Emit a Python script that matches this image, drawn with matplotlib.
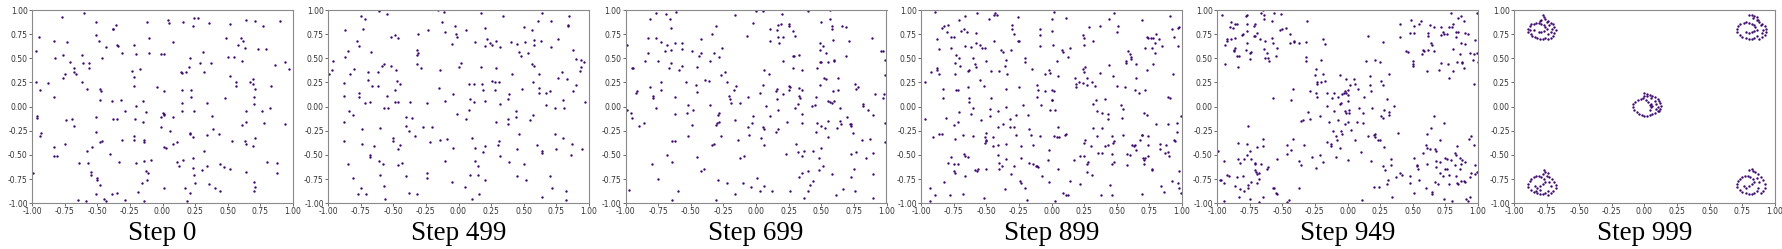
import matplotlib
matplotlib.use("Agg")
import matplotlib.pyplot as plt
import numpy as np

titles = ["Step 0", "Step 499", "Step 699", "Step 899", "Step 949", "Step 999"]
ticks = [-1.00, -0.75, -0.50, -0.25, 0.00, 0.25, 0.50, 0.75, 1.00]

step0 = [(-0.77,0.93),(-0.60,0.97),(-0.51,0.88),(-0.95,0.72),(-0.97,0.58),(-0.83,0.68),(-0.73,0.67),(-0.82,0.50),(-0.76,0.53),(-0.62,0.53),(-0.71,0.46),(-0.68,0.40),(-0.68,0.36),(-0.76,0.30),(-0.75,0.34),(-0.66,0.34),(-0.61,0.45),(-0.56,0.45),(-0.56,0.40),(-0.62,0.26),(-0.58,0.18),(-0.97,0.26),(-0.94,0.17),(-0.88,0.24),(-0.83,0.10),(-0.51,0.74),(-0.49,0.68),(-0.43,0.62),(-0.46,0.50),(-0.48,0.07),(-0.48,0.18),(-0.47,0.16),(-0.38,0.80),(-0.36,0.84),(-0.38,0.80),(-0.35,0.64),(-0.34,0.63),(-0.31,0.56),(-0.12,0.88),(-0.10,0.71),(-0.10,0.55),(-0.20,0.54),(-0.17,0.39),(-0.23,0.37),(-0.22,0.31),(-0.22,0.21),(-0.22,0.64),(-0.04,0.20),(-0.01,0.54),(0.01,0.54),(0.01,0.16),(-0.39,0.06),(-0.32,0.07),(-0.20,0.01),(-0.15,0.06),(-0.29,-0.04),(-0.38,-0.13),(-0.35,-0.13),(-0.21,-0.13),(-0.13,-0.06),(-0.15,-0.16),(0.00,-0.07),(0.01,-0.09),(-0.01,-0.11),(0.01,-0.08),(0.08,-0.11),(-0.01,-0.21),(0.06,-0.25),(-0.96,-0.10),(-0.96,-0.12),(-0.94,-0.30),(-0.93,-0.27),(-0.74,-0.14),(-0.69,-0.13),(-0.68,-0.20),(-0.75,-0.39),(-0.83,-0.42),(-0.83,-0.51),(-0.81,-0.51),(-0.51,-0.11),(-0.51,-0.26),(-0.48,-0.37),(-0.46,-0.36),(-0.54,-0.42),(-0.58,-0.46),(-0.57,-0.58),(-0.64,-0.58),(-0.55,-0.68),(-0.55,-0.71),(-0.50,-0.74),(-0.50,-0.76),(-0.48,-0.81),(-0.51,-0.90),(-0.45,-0.96),(-0.43,-0.98),(-0.39,-0.90),(-0.35,-0.89),(-0.65,-0.97),(-0.59,-0.98),(-0.99,-0.69),(-0.40,-0.49),(-0.33,-0.57),(-0.31,-0.34),(-0.22,-0.30),(-0.22,-0.35),(-0.14,-0.37),(-0.14,-0.34),(-0.20,-0.58),(-0.14,-0.56),(-0.09,-0.55),(-0.13,-0.67),(-0.11,-0.69),(-0.12,-0.76),(-0.16,-0.79),(-0.19,-0.88),(-0.29,-0.97),(-0.14,-0.98),(0.01,-0.42),(0.03,-0.43),(0.01,-0.84),(0.04,0.90),(0.05,0.87),(0.08,0.67),(0.16,0.88),(0.24,0.92),(0.27,0.92),(0.23,0.83),(0.36,0.87),(0.14,0.36),(0.15,0.35),(0.18,0.36),(0.20,0.41),(0.21,0.50),(0.31,0.57),(0.29,0.45),(0.37,0.45),(0.32,0.36),(0.15,0.17),(0.22,0.17),(0.22,0.10),(0.15,0.04),(0.34,0.04),(0.15,-0.04),(0.24,-0.04),(0.38,-0.10),(0.39,-0.23),(0.43,-0.28),(0.34,-0.29),(0.21,-0.27),(0.21,-0.28),(0.23,-0.31),(0.11,-0.37),(0.08,-0.39),(0.32,-0.46),(0.23,-0.53),(0.11,-0.57),(0.13,-0.61),(0.16,-0.55),(0.23,-0.63),(0.24,-0.71),(0.34,-0.61),(0.30,-0.66),(0.25,-0.79),(0.36,-0.80),(0.17,-0.84),(0.21,-0.89),(0.19,-0.98),(0.40,-0.84),(0.44,-0.87),(0.44,-0.59),(0.47,-0.62),(0.52,-0.65),(0.53,-0.36),(0.49,0.71),(0.52,0.86),(0.64,0.90),(0.71,0.89),(0.77,0.83),(0.90,0.89),(0.60,0.71),(0.62,0.68),(0.58,0.64),(0.63,0.61),(0.73,0.60),(0.79,0.60),(0.50,0.51),(0.55,0.51),(0.61,0.47),(0.52,0.32),(0.56,0.25),(0.56,0.21),(0.67,0.25),(0.69,0.23),(0.69,0.29),(0.71,0.18),(0.86,0.43),(0.94,0.46),(0.97,0.39),(0.83,0.21),(0.70,0.10),(0.70,0.03),(0.64,-0.05),(0.76,-0.05),(0.82,-0.01),(0.61,-0.19),(0.64,-0.16),(0.78,-0.17),(0.94,-0.18),(0.48,0.09),(0.63,-0.36),(0.64,-0.39),(0.69,-0.41),(0.71,-0.32),(0.64,-0.68),(0.70,-0.78),(0.71,-0.83),(0.70,-0.87),(0.80,-0.57),(0.88,-0.58),(0.88,-0.69)]

step499 = [(-0.99,0.34),(-0.97,0.38),(-0.96,0.47),(-0.87,0.79),(-0.85,0.58),(-0.87,0.51),(-0.83,0.34),(-0.80,0.39),(-0.78,0.68),(-0.76,0.63),(-0.75,0.94),(-0.72,0.91),(-0.73,0.80),(-0.67,0.57),(-0.69,0.36),(-0.69,0.28),(-0.66,0.21),(-0.62,0.21),(-0.62,0.36),(-0.61,0.99),(-0.55,0.96),(-0.59,0.42),(-0.57,0.44),(-0.52,0.42),(-0.52,0.72),(-0.49,0.74),(-0.46,0.71),(-0.48,0.38),(-0.47,0.27),(-0.45,0.23),(-0.49,0.17),(-0.55,0.11),(-0.49,0.05),(-0.46,0.05),(-0.57,-0.01),(-0.54,-0.01),(-0.88,0.24),(-0.88,0.11),(-0.84,-0.04),(-0.81,-0.09),(-0.88,-0.16),(-0.88,-0.36),(-0.76,0.14),(-0.76,0.10),(-0.72,0.04),(-0.68,0.05),(-0.74,-0.23),(-0.74,-0.39),(-0.65,-0.41),(-0.68,-0.50),(-0.68,-0.52),(-0.85,-0.59),(-0.81,-0.74),(-0.77,-0.90),(-0.75,-0.84),(-0.71,-0.90),(-0.60,-0.22),(-0.61,-0.56),(-0.58,-0.59),(-0.60,-0.71),(-0.57,-0.82),(-0.56,-0.96),(-0.50,-0.32),(-0.50,-0.36),(-0.45,-0.40),(-0.46,-0.44),(-0.46,-0.60),(-0.43,-0.58),(-0.40,-0.72),(-0.38,-0.89),(-0.32,-0.90),(-0.37,0.05),(-0.40,-0.11),(-0.36,-0.12),(-0.40,-0.20),(-0.38,-0.25),(-0.33,-0.30),(-0.27,-0.21),(-0.20,-0.21),(-0.32,0.59),(-0.31,0.56),(-0.32,0.53),(-0.31,0.75),(-0.32,0.44),(-0.29,0.40),(-0.23,0.79),(-0.24,0.04),(-0.22,-0.37),(-0.24,-0.69),(-0.24,-0.74),(-0.16,1.00),(-0.11,0.98),(-0.13,0.88),(-0.10,0.77),(-0.15,0.19),(-0.14,0.38),(-0.10,0.06),(-0.14,-0.35),(-0.09,-0.33),(-0.10,-0.56),(-0.05,0.65),(-0.03,0.83),(-0.02,0.75),(-0.01,0.72),(-0.04,0.13),(-0.01,-0.08),(-0.04,-0.43),(-0.05,-0.78),(0.00,0.41),(0.02,0.45),(0.06,0.79),(0.08,0.23),(0.09,0.08),(0.08,-0.03),(0.06,-0.13),(0.05,-0.83),(0.10,-0.32),(0.09,-0.71),(0.10,-0.96),(0.13,0.67),(0.12,0.23),(0.12,0.05),(0.13,-0.43),(0.13,-0.56),(0.15,-0.61),(0.15,-0.71),(0.16,-0.90),(0.17,0.97),(0.17,0.41),(0.18,0.23),(0.19,0.17),(0.20,0.06),(0.20,0.81),(0.20,0.63),(0.22,0.70),(0.20,-0.41),(0.19,-0.47),(0.20,-0.76),(0.24,0.66),(0.26,0.64),(0.26,0.27),(0.28,0.25),(0.28,0.17),(0.29,0.40),(0.29,0.68),(0.31,0.25),(0.32,0.62),(0.34,0.94),(0.32,0.03),(0.29,-0.16),(0.31,-0.36),(0.30,-0.40),(0.32,-0.51),(0.38,0.08),(0.39,0.13),(0.38,-0.13),(0.38,-0.18),(0.39,-0.57),(0.40,0.67),(0.41,0.34),(0.45,0.65),(0.46,0.57),(0.48,0.52),(0.49,0.18),(0.44,-0.04),(0.44,-0.11),(0.46,-0.28),(0.45,-0.44),(0.45,-0.72),(0.50,-0.59),(0.50,0.82),(0.51,0.67),(0.52,-0.76),(0.53,0.55),(0.55,-0.14),(0.56,0.79),(0.56,0.44),(0.57,0.26),(0.58,0.64),(0.58,0.42),(0.58,0.69),(0.57,-0.09),(0.60,-0.40),(0.61,0.89),(0.62,0.34),(0.62,0.19),(0.62,0.14),(0.63,0.68),(0.64,0.97),(0.64,-0.46),(0.64,-0.48),(0.64,-0.93),(0.67,0.14),(0.67,0.02),(0.70,0.16),(0.70,-0.72),(0.71,0.62),(0.71,0.89),(0.72,-0.84),(0.74,-0.01),(0.74,-0.28),(0.75,-0.44),(0.76,0.70),(0.76,0.30),(0.79,0.36),(0.80,0.07),(0.81,-0.01),(0.80,-0.32),(0.82,-0.87),(0.82,-0.97),(0.83,0.29),(0.84,0.84),(0.84,0.83),(0.85,0.94),(0.88,0.59),(0.88,0.16),(0.87,-0.39),(0.86,-0.50),(0.90,0.49),(0.90,0.22),(0.93,0.37),(0.94,0.48),(0.94,0.41),(0.96,0.46),(0.97,0.05),(0.95,-0.44)]

step699 = [(-0.99,0.64),(-0.99,-0.03),(-0.96,-0.07),(-0.95,-0.12),(-0.95,0.40),(-0.94,0.40),(-0.97,-0.86),(-0.92,0.14),(-0.91,0.16),(-0.90,-0.20),(-0.86,-0.17),(-0.85,0.47),(-0.83,0.56),(-0.83,0.71),(-0.81,0.91),(-0.77,0.97),(-0.81,0.20),(-0.79,0.09),(-0.79,0.11),(-0.77,-0.01),(-0.80,-0.59),(-0.77,0.71),(-0.75,0.47),(-0.75,-0.75),(-0.73,0.67),(-0.73,0.26),(-0.73,0.17),(-0.70,0.58),(-0.69,0.96),(-0.68,-0.50),(-0.68,0.64),(-0.66,0.91),(-0.67,0.40),(-0.65,0.59),(-0.65,0.81),(-0.65,0.45),(-0.64,-0.36),(-0.64,-0.57),(-0.64,-0.97),(-0.62,-0.36),(-0.62,-0.08),(-0.62,0.66),(-0.61,0.98),(-0.62,0.10),(-0.60,-0.87),(-0.59,0.38),(-0.57,0.66),(-0.57,0.60),(-0.57,0.42),(-0.54,0.25),(-0.53,-0.07),(-0.52,0.02),(-0.52,-0.30),(-0.49,0.58),(-0.49,-0.19),(-0.48,-0.03),(-0.46,0.22),(-0.45,0.41),(-0.45,0.15),(-0.45,-0.52),(-0.44,0.52),(-0.42,0.70),(-0.42,0.55),(-0.42,-0.67),(-0.40,-0.65),(-0.39,0.28),(-0.36,0.27),(-0.35,0.47),(-0.35,0.02),(-0.34,0.75),(-0.34,-0.40),(-0.32,0.56),(-0.32,-0.39),(-0.31,-0.97),(-0.31,0.83),(-0.30,-0.17),(-0.29,-0.09),(-0.28,-0.07),(-0.28,-0.16),(-0.28,0.51),(-0.31,-0.19),(-0.27,-0.30),(-0.29,-0.76),(-0.27,0.33),(-0.26,0.61),(-0.24,0.36),(-0.22,-0.79),(-0.22,0.26),(-0.21,0.11),(-0.20,0.08),(-0.19,0.04),(-0.17,0.17),(-0.16,-0.90),(-0.16,-0.14),(-0.16,0.95),(-0.15,0.21),(-0.14,-0.34),(-0.12,0.04),(-0.12,-0.53),(-0.10,-0.79),(-0.09,-0.51),(-0.07,0.73),(-0.06,0.10),(-0.06,-0.21),(-0.05,-0.29),(-0.04,-0.83),(-0.03,-0.17),(-0.02,-0.10),(-0.02,0.87),(0.00,0.99),(0.01,-0.74),(0.03,0.14),(0.03,-0.87),(0.04,-0.32),(0.05,0.99),(0.05,0.22),(0.05,-0.21),(0.06,-0.23),(0.06,0.38),(0.06,-0.40),(0.06,-0.82),(0.08,0.01),(0.10,0.34),(0.11,-0.10),(0.11,0.80),(0.11,0.68),(0.12,-0.87),(0.15,-0.26),(0.15,0.16),(0.16,0.08),(0.16,0.18),(0.16,0.79),(0.17,0.84),(0.17,-0.03),(0.17,0.72),(0.17,-0.23),(0.18,0.66),(0.19,0.85),(0.20,0.96),(0.21,0.47),(0.21,0.72),(0.21,0.13),(0.23,-0.49),(0.24,-0.16),(0.25,0.85),(0.25,0.83),(0.25,0.21),(0.26,0.20),(0.25,0.17),(0.26,-0.87),(0.28,0.78),(0.28,0.52),(0.28,0.40),(0.29,0.52),(0.30,-0.01),(0.30,0.73),(0.31,-0.39),(0.32,0.03),(0.32,-0.47),(0.33,0.19),(0.33,0.11),(0.33,0.53),(0.33,-0.73),(0.34,0.09),(0.35,0.17),(0.35,-0.08),(0.35,-0.17),(0.35,-0.51),(0.35,-0.69),(0.35,0.38),(0.37,-0.95),(0.37,-0.46),(0.40,0.99),(0.40,-0.67),(0.40,-0.87),(0.41,-0.81),(0.43,0.01),(0.44,-0.46),(0.44,-0.77),(0.45,0.02),(0.46,0.10),(0.46,-0.26),(0.47,0.40),(0.47,-0.17),(0.48,-0.66),(0.49,0.46),(0.48,-0.53),(0.49,0.59),(0.49,0.66),(0.50,0.46),(0.49,0.22),(0.50,-0.43),(0.50,-0.20),(0.50,0.88),(0.51,0.63),(0.51,-0.61),(0.52,0.30),(0.53,-0.22),(0.54,0.29),(0.54,0.56),(0.55,-0.31),(0.55,-0.15),(0.55,0.06),(0.55,0.46),(0.57,0.91),(0.57,1.00),(0.57,0.05),(0.58,0.04),(0.58,-0.70),(0.58,0.83),(0.58,0.80),(0.59,0.16),(0.59,0.69),(0.60,0.48),(0.60,0.47),(0.60,0.06),(0.61,-0.91),(0.62,-0.22),(0.63,0.17),(0.63,0.30),(0.64,-0.01),(0.64,-0.15),(0.65,-0.18),(0.66,0.83),(0.67,-0.85),(0.69,0.52),(0.69,0.82),(0.70,-0.11),(0.71,0.68),(0.72,-0.18),(0.73,-0.20),(0.73,-0.18),(0.73,-0.49),(0.73,-0.73),(0.74,-0.27),(0.75,-0.64),(0.76,-0.87),(0.76,0.23),(0.77,0.18),(0.78,0.20),(0.77,-0.47),(0.81,-0.35),(0.82,0.03),(0.82,0.01),(0.84,-0.53),(0.86,-0.03),(0.87,-0.33),(0.89,0.71),(0.90,-0.70),(0.90,-0.09),(0.90,-0.48),(0.90,-0.95),(0.91,0.13),(0.96,0.58),(0.97,0.58),(0.97,0.09),(0.98,0.13),(0.99,0.48),(0.99,0.33),(0.99,-0.17),(0.99,-0.37)]

step899 = [(-0.97,0.25),(-0.97,-0.13),(-0.93,-0.84),(-0.93,-0.98),(-0.92,0.36),(-0.91,-0.31),(-0.89,-0.91),(-0.89,0.98),(-0.88,0.40),(-0.88,0.70),(-0.88,0.38),(-0.86,-0.28),(-0.86,0.34),(-0.86,0.60),(-0.84,-0.28),(-0.84,0.81),(-0.83,0.18),(-0.83,0.09),(-0.82,0.83),(-0.82,-0.78),(-0.81,-0.12),(-0.80,0.77),(-0.79,0.84),(-0.79,-0.58),(-0.78,-0.91),(-0.77,0.61),(-0.77,0.72),(-0.77,-0.52),(-0.75,0.72),(-0.75,-0.19),(-0.75,-0.67),(-0.75,-0.59),(-0.74,-0.69),(-0.74,0.45),(-0.74,0.34),(-0.74,-0.33),(-0.73,0.53),(-0.73,0.17),(-0.72,-0.59),(-0.72,0.17),(-0.72,-0.16),(-0.71,0.90),(-0.71,-0.06),(-0.71,0.50),(-0.70,0.42),(-0.69,0.78),(-0.68,-0.29),(-0.68,-0.90),(-0.67,-0.49),(-0.67,0.80),(-0.66,0.94),(-0.66,-0.51),(-0.66,-0.72),(-0.66,0.63),(-0.65,0.77),(-0.64,0.37),(-0.64,0.20),(-0.64,-0.52),(-0.63,0.09),(-0.63,0.38),(-0.63,0.05),(-0.62,-0.08),(-0.62,0.62),(-0.60,-0.01),(-0.60,0.50),(-0.60,-0.30),(-0.59,0.44),(-0.59,-0.66),(-0.58,0.76),(-0.58,0.66),(-0.58,0.41),(-0.57,0.97),(-0.57,-0.67),(-0.56,-0.64),(-0.55,0.64),(-0.55,0.28),(-0.54,-0.14),(-0.53,0.61),(-0.52,0.21),(-0.52,-0.95),(-0.51,0.61),(-0.51,-0.31),(-0.51,-0.38),(-0.50,-0.27),(-0.50,-0.64),(-0.50,0.47),(-0.50,-0.35),(-0.50,-0.36),(-0.48,0.91),(-0.47,-0.02),(-0.47,-0.10),(-0.46,0.09),(-0.46,0.37),(-0.45,-0.31),(-0.45,-0.41),(-0.44,0.68),(-0.44,0.95),(-0.43,0.97),(-0.42,0.95),(-0.41,-0.05),(-0.41,-0.21),(-0.41,-0.50),(-0.41,-0.40),(-0.40,-0.58),(-0.40,0.37),(-0.40,-0.64),(-0.39,0.59),(-0.38,-0.61),(-0.37,-0.18),(-0.37,0.57),(-0.36,0.42),(-0.36,-0.85),(-0.35,-0.39),(-0.35,-0.54),(-0.35,0.48),(-0.35,0.18),(-0.35,0.00),(-0.34,0.34),(-0.32,-0.13),(-0.32,-0.21),(-0.31,-0.70),(-0.31,0.59),(-0.30,0.84),(-0.30,0.80),(-0.29,0.75),(-0.29,-0.21),(-0.29,-0.61),(-0.27,-0.29),(-0.27,-0.09),(-0.26,0.68),(-0.26,0.93),(-0.25,0.68),(-0.25,0.20),(-0.24,-0.77),(-0.23,-0.41),(-0.23,-0.79),(-0.23,-0.53),(-0.22,0.02),(-0.20,0.50),(-0.20,0.46),(-0.20,-0.84),(-0.19,-0.97),(-0.18,-0.09),(-0.17,-0.23),(-0.17,-0.58),(-0.16,-0.29),(-0.15,0.39),(-0.14,-0.40),(-0.14,-0.59),(-0.12,-0.61),(-0.11,0.10),(-0.11,0.22),(-0.11,-0.61),(-0.10,0.17),(-0.10,-0.62),(-0.09,0.80),(-0.09,0.74),(-0.09,0.63),(-0.09,-0.30),(-0.08,0.02),(-0.07,-0.72),(-0.05,0.34),(-0.05,0.16),(-0.03,-0.55),(-0.02,-0.45),(-0.02,-0.78),(-0.02,0.38),(-0.01,-0.03),(-0.01,0.35),(0.00,0.17),(0.00,0.07),(0.00,0.91),(0.00,0.78),(0.005,0.07),(0.01,0.64),(0.02,0.98),(0.02,0.16),(0.02,-0.30),(0.03,-0.03),(0.03,-0.98),(0.04,-0.31),(0.04,0.47),(0.05,-0.21),(0.05,-0.64),(0.05,0.32),(0.055,-0.31),(0.08,0.59),(0.09,-0.89),(0.09,0.57),(0.10,-0.29),(0.11,0.92),(0.11,-0.91),(0.11,-0.28),(0.13,0.51),(0.13,-0.91),(0.14,0.61),(0.14,-0.77),(0.17,-0.55),(0.18,0.30),(0.19,0.20),(0.19,0.23),(0.21,0.26),(0.22,-0.51),(0.22,-0.80),(0.24,0.39),(0.24,0.24),(0.24,0.74),(0.25,0.71),(0.25,0.64),(0.25,-0.51),(0.25,0.36),(0.255,0.41),(0.25,-0.38),(0.26,-0.34),(0.27,0.30),(0.27,0.22),(0.27,-0.59),(0.27,-0.68),(0.28,-0.57),(0.29,0.82),(0.30,-0.41),(0.31,0.25),(0.31,-0.71),(0.32,-0.22),(0.32,0.03),(0.32,0.68),(0.33,0.21),(0.34,0.07),(0.35,-0.05),(0.35,-0.30),(0.37,0.83),(0.36,-0.48),(0.37,0.35),(0.38,-0.91),(0.39,-0.22),(0.39,-0.48),(0.39,-0.07),(0.41,0.08),(0.41,-0.41),(0.43,-0.08),(0.43,-0.13),(0.43,-0.40),(0.44,0.91),(0.44,0.43),(0.45,-0.81),(0.46,-0.49),(0.46,-0.59),(0.46,-0.30),(0.46,-0.91),(0.47,0.32),(0.47,-0.38),(0.48,-0.36),(0.48,-0.57),(0.48,0.97),(0.50,0.21),(0.50,0.77),(0.51,0.83),(0.53,0.02),(0.54,-0.12),(0.55,-0.29),(0.55,-0.02),(0.56,0.20),(0.57,0.47),(0.57,0.45),(0.58,-0.49),(0.58,-0.60),(0.59,0.58),(0.60,0.54),(0.60,-0.50),(0.61,0.51),(0.61,0.49),(0.62,-0.40),(0.63,-0.41),(0.64,-0.40),(0.64,0.17),(0.65,0.44),(0.65,0.30),(0.65,-0.45),(0.67,0.14),(0.68,-0.34),(0.69,-0.29),(0.69,-0.90),(0.69,0.90),(0.695,-0.29),(0.70,-0.53),(0.71,-0.07),(0.71,-0.55),(0.71,-0.59),(0.72,-0.53),(0.72,0.61),(0.72,0.17),(0.73,-0.09),(0.73,0.38),(0.73,0.72),(0.74,0.71),(0.74,-0.30),(0.74,-0.40),(0.74,-0.51),(0.76,0.71),(0.77,-0.66),(0.77,-0.64),(0.77,0.61),(0.78,0.71),(0.78,0.44),(0.79,0.55),(0.79,0.66),(0.80,-0.18),(0.80,0.75),(0.82,0.70),(0.83,-0.44),(0.83,-0.39),(0.84,-0.82),(0.85,0.63),(0.86,-0.88),(0.87,-0.48),(0.88,-0.40),(0.89,-0.47),(0.89,-0.18),(0.89,0.10),(0.90,-0.51),(0.91,0.09),(0.91,0.94),(0.92,0.80),(0.92,-0.77),(0.93,0.34),(0.94,0.72),(0.94,-0.35),(0.95,-0.36),(0.96,-0.26),(0.96,-0.17),(0.97,0.63),(0.97,-0.79),(0.97,0.81),(0.98,0.82),(0.98,-0.67),(0.98,-0.84),(0.99,-0.89),(0.99,-0.10)]

step949 = [(-0.99,-0.46),(-0.98,-0.76),(-0.97,-0.76),(-0.96,0.95),(-0.95,-0.56),(-0.95,-0.79),(-0.95,-0.98),(-0.94,0.64),(-0.94,0.44),(-0.92,0.68),(-0.92,0.70),(-0.92,-0.71),(-0.91,-0.72),(-0.90,0.82),(-0.89,0.70),(-0.89,0.88),(-0.88,0.81),(-0.87,0.58),(-0.87,0.59),(-0.86,0.61),(-0.86,-0.82),(-0.86,0.71),(-0.86,0.86),(-0.85,-0.73),(-0.85,0.52),(-0.85,0.85),(-0.84,0.41),(-0.84,-0.54),(-0.84,-0.38),(-0.83,-0.93),(-0.83,0.52),(-0.82,-0.85),(-0.82,-0.58),(-0.81,0.74),(-0.80,-0.72),(-0.80,0.75),(-0.79,-0.87),(-0.79,-0.54),(-0.78,0.59),(-0.78,0.94),(-0.77,0.86),(-0.77,0.78),(-0.77,0.66),(-0.77,0.95),(-0.77,-0.39),(-0.77,-0.50),(-0.76,-0.20),(-0.76,-0.84),(-0.76,-0.81),(-0.75,0.49),(-0.75,-0.46),(-0.75,-0.96),(-0.75,0.55),(-0.74,0.57),(-0.74,-0.78),(-0.74,-0.54),(-0.72,0.83),(-0.72,0.73),(-0.71,0.85),(-0.71,0.73),(-0.71,-0.59),(-0.71,-0.66),(-0.71,-0.58),(-0.70,-0.68),(-0.69,0.76),(-0.69,-0.42),(-0.69,-0.79),(-0.69,-0.70),(-0.68,-0.75),(-0.68,-0.69),(-0.68,-0.99),(-0.67,0.70),(-0.66,0.97),(-0.66,-0.59),(-0.65,-0.33),(-0.65,-0.41),(-0.65,-0.93),(-0.65,1.00),(-0.64,0.95),(-0.64,0.91),(-0.64,0.60),(-0.63,0.50),(-0.63,0.68),(-0.62,0.56),(-0.62,-0.64),(-0.61,0.50),(-0.61,-0.62),(-0.60,0.47),(-0.58,0.89),(-0.58,0.71),(-0.57,0.66),(-0.57,0.09),(-0.57,-0.84),(-0.56,-0.84),(-0.56,0.97),(-0.55,0.52),(-0.55,-0.89),(-0.54,-0.54),(-0.54,0.61),(-0.54,-0.90),(-0.52,0.79),(-0.51,0.96),(-0.50,0.80),(-0.47,0.81),(-0.46,-0.40),(-0.46,-0.49),(-0.46,-0.99),(-0.45,-0.97),(-0.44,0.75),(-0.44,0.66),(-0.43,0.07),(-0.43,-0.45),(-0.42,-0.33),(-0.42,0.18),(-0.41,0.67),(-0.41,0.68),(-0.37,0.66),(-0.37,-0.56),(-0.37,-0.84),(-0.36,-0.60),(-0.36,-0.15),(-0.34,-0.14),(-0.33,-0.40),(-0.32,0.51),(-0.32,0.47),(-0.32,0.67),(-0.31,0.89),(-0.30,-0.06),(-0.29,-0.13),(-0.29,0.16),(-0.27,-0.52),(-0.25,0.33),(-0.24,-0.63),(-0.24,0.14),(-0.24,0.39),(-0.23,0.10),(-0.23,0.23),(-0.23,0.26),(-0.21,-0.50),(-0.21,-0.10),(-0.20,0.48),(-0.20,0.26),(-0.19,0.70),(-0.19,0.34),(-0.19,-0.57),(-0.17,0.27),(-0.17,0.65),(-0.16,0.01),(-0.16,-0.37),(-0.16,0.14),(-0.14,-0.16),(-0.13,-0.41),(-0.13,-0.39),(-0.12,0.09),(-0.11,-0.25),(-0.10,0.14),(-0.10,-0.04),(-0.09,-0.52),(-0.09,-0.30),(-0.08,-0.34),(-0.07,0.10),(-0.07,-0.14),(-0.06,0.33),(-0.06,-0.43),(-0.06,0.03),(-0.05,0.04),(-0.05,-0.25),(-0.04,-0.28),(-0.04,0.13),(-0.03,0.14),(-0.02,-0.05),(-0.02,-0.18),(-0.02,0.16),(-0.01,0.29),(-0.01,0.14),(-0.01,-0.07),(0.00,0.12),(0.00,-0.16),(0.00,0.06),(0.00,-0.55),(0.005,0.17),(0.01,-0.03),(0.01,-0.07),(0.02,0.22),(0.03,-0.24),(0.05,0.29),(0.06,0.23),(0.06,-0.34),(0.07,-0.16),(0.08,0.18),(0.09,-0.01),(0.10,-0.47),(0.11,-0.97),(0.12,-0.17),(0.12,-0.07),(0.13,0.10),(0.14,0.47),(0.16,-0.30),(0.16,0.73),(0.17,0.22),(0.17,0.32),(0.18,0.16),(0.18,-0.56),(0.19,-0.01),(0.20,-0.83),(0.20,-0.29),(0.21,0.48),(0.21,-0.28),(0.21,-0.31),(0.23,-0.34),(0.24,-0.83),(0.25,0.46),(0.25,-0.34),(0.26,-0.10),(0.26,0.27),(0.27,0.67),(0.27,-0.12),(0.27,-0.61),(0.27,0.22),(0.28,-0.03),(0.28,-0.42),(0.29,-0.66),(0.30,-0.80),(0.30,0.08),(0.31,-0.76),(0.32,0.34),(0.32,-0.06),(0.32,-0.09),(0.33,-0.60),(0.33,-0.54),(0.34,-0.93),(0.36,0.01),(0.37,-0.73),(0.39,-0.27),(0.40,0.86),(0.40,-0.69),(0.40,0.72),(0.42,-0.71),(0.45,0.58),(0.46,0.57),(0.48,-0.72),(0.48,0.76),(0.48,-0.79),(0.49,0.90),(0.50,0.47),(0.50,0.44),(0.50,0.42),(0.51,0.76),(0.51,-0.89),(0.51,0.83),(0.51,-0.53),(0.53,-0.61),(0.53,-0.60),(0.54,-0.64),(0.55,-0.76),(0.55,0.86),(0.56,0.89),(0.57,0.54),(0.58,-0.48),(0.58,0.59),(0.59,0.58),(0.60,-0.40),(0.60,-0.84),(0.61,0.37),(0.61,-0.43),(0.61,-0.28),(0.61,-0.59),(0.62,0.76),(0.62,0.59),(0.62,0.73),(0.63,0.84),(0.63,-0.44),(0.64,0.66),(0.64,-0.22),(0.65,0.64),(0.65,-0.88),(0.65,-0.90),(0.66,0.82),(0.66,0.58),(0.66,-0.10),(0.67,-0.44),(0.67,-0.78),(0.68,-0.56),(0.68,-0.62),(0.68,-0.46),(0.69,-0.80),(0.70,0.38),(0.71,-0.69),(0.71,-0.57),(0.71,-0.34),(0.72,0.82),(0.72,0.45),(0.72,0.74),(0.73,-0.72),(0.73,0.77),(0.74,-0.17),(0.74,0.75),(0.74,-0.96),(0.75,-0.64),(0.75,-0.53),(0.76,-0.65),(0.76,0.75),(0.76,-0.54),(0.77,0.44),(0.78,-0.71),(0.78,0.82),(0.78,0.30),(0.78,-0.80),(0.79,0.97),(0.79,-0.55),(0.80,0.82),(0.80,-0.98),(0.81,0.37),(0.81,0.60),(0.81,0.86),(0.82,-0.48),(0.82,-0.60),(0.83,-0.50),(0.83,0.72),(0.83,0.77),(0.83,-0.72),(0.84,-0.41),(0.84,-0.79),(0.84,0.46),(0.85,-0.80),(0.85,0.92),(0.85,0.77),(0.86,0.54),(0.86,-0.53),(0.86,-0.64),(0.87,0.66),(0.87,-0.77),(0.87,-0.59),(0.87,0.94),(0.88,0.46),(0.88,0.45),(0.88,-0.55),(0.89,-0.77),(0.89,0.89),(0.89,0.40),(0.90,-0.57),(0.90,0.65),(0.90,0.76),(0.90,-0.775),(0.91,-0.96),(0.92,0.75),(0.92,-0.98),(0.93,-0.33),(0.94,-0.73),(0.94,-0.93),(0.94,0.56),(0.95,-0.30),(0.95,-0.69),(0.96,0.48),(0.97,0.54),(0.97,-0.40),(0.97,0.23),(0.98,-0.70),(0.98,-0.60),(0.98,0.69),(0.99,-0.68),(0.99,0.55),(0.99,0.97),(1.00,0.46)]

step999 = [
    # top-left cluster
    (-0.89,0.80),(-0.89,0.77),(-0.88,0.83),(-0.87,0.85),(-0.87,0.75),(-0.86,0.73),(-0.85,0.86),(-0.84,0.72),(-0.83,0.87),(-0.82,0.71),(-0.81,0.87),(-0.80,0.70),(-0.79,0.86),(-0.78,0.70),(-0.77,0.84),(-0.76,0.71),(-0.76,0.82),(-0.75,0.80),(-0.77,0.78),(-0.79,0.77),(-0.81,0.77),(-0.85,0.79),(-0.88,0.79),
    (-0.74,0.89),(-0.72,0.87),(-0.70,0.85),(-0.69,0.82),(-0.68,0.79),(-0.69,0.76),(-0.70,0.73),(-0.72,0.71),(-0.74,0.70),(-0.73,0.84),(-0.71,0.80),(-0.72,0.77),(-0.74,0.75),
    (-0.78,0.95),(-0.77,0.93),(-0.76,0.91),(-0.79,0.90),(-0.75,0.88),(-0.80,0.89),
    # top-right cluster
    (0.71,0.80),(0.71,0.77),(0.72,0.83),(0.73,0.85),(0.73,0.74),(0.75,0.72),(0.76,0.87),(0.78,0.71),(0.78,0.88),(0.80,0.70),(0.80,0.87),(0.82,0.70),(0.82,0.86),(0.84,0.71),(0.84,0.84),(0.86,0.73),(0.85,0.82),(0.86,0.79),(0.84,0.78),(0.82,0.77),(0.80,0.76),(0.78,0.77),
    (0.86,0.90),(0.88,0.88),(0.90,0.86),(0.92,0.83),(0.93,0.80),(0.93,0.77),(0.92,0.74),(0.90,0.72),(0.88,0.70),(0.89,0.84),(0.91,0.79),(0.90,0.76),
    (0.80,0.95),(0.82,0.95),(0.84,0.94),(0.86,0.93),(0.83,0.92),(0.87,0.90),
    # center cluster
    (-0.09,0.00),(-0.09,0.03),(-0.08,-0.03),(-0.07,0.05),(-0.06,-0.06),(-0.05,0.07),(-0.04,-0.08),(-0.03,0.08),(-0.02,-0.09),(-0.01,0.09),(0.00,-0.10),(0.02,-0.10),(0.04,-0.09),(0.06,-0.08),(0.08,-0.07),(0.10,-0.05),(0.01,0.07),(0.03,0.05),(0.04,0.02),(0.05,0.00),(0.04,-0.03),(0.06,0.01),(0.05,0.03),
    (0.00,0.14),(0.02,0.13),(0.04,0.12),(0.06,0.11),(0.08,0.10),(0.10,0.08),(0.11,0.06),(0.12,0.04),(0.13,0.01),(0.12,-0.02),(0.11,-0.04),(0.02,0.11),(0.00,0.11),(0.05,0.09),(0.08,0.06),(0.09,0.03),(0.10,0.00),(0.09,-0.02),
    # bottom-left cluster
    (-0.89,-0.80),(-0.89,-0.83),(-0.88,-0.77),(-0.87,-0.75),(-0.87,-0.86),(-0.85,-0.73),(-0.85,-0.88),(-0.83,-0.72),(-0.82,-0.89),(-0.81,-0.72),(-0.80,-0.90),(-0.79,-0.73),(-0.78,-0.90),(-0.77,-0.75),(-0.76,-0.89),(-0.76,-0.78),(-0.74,-0.87),(-0.78,-0.80),(-0.80,-0.82),(-0.82,-0.84),(-0.84,-0.82),
    (-0.75,-0.72),(-0.73,-0.73),(-0.71,-0.75),(-0.69,-0.78),(-0.68,-0.81),(-0.68,-0.84),(-0.70,-0.87),(-0.72,-0.89),(-0.74,-0.91),(-0.73,-0.78),(-0.72,-0.82),
    (-0.77,-0.66),(-0.76,-0.68),(-0.74,-0.69),(-0.78,-0.70),(-0.83,-0.87),(-0.80,-0.86),
    # bottom-right cluster
    (0.71,-0.80),(0.71,-0.83),(0.72,-0.77),(0.73,-0.75),(0.73,-0.86),(0.75,-0.73),(0.75,-0.88),(0.77,-0.72),(0.78,-0.89),(0.79,-0.72),(0.80,-0.90),(0.81,-0.73),(0.82,-0.90),(0.83,-0.75),(0.84,-0.89),(0.84,-0.78),(0.86,-0.87),(0.82,-0.80),(0.80,-0.82),(0.78,-0.84),(0.76,-0.82),
    (0.83,-0.67),(0.85,-0.68),(0.87,-0.70),(0.89,-0.73),(0.91,-0.76),(0.92,-0.80),(0.92,-0.84),(0.91,-0.87),(0.89,-0.89),(0.87,-0.84),(0.88,-0.78),(0.86,-0.74),
    (0.80,-0.66),(0.82,-0.65),
]

panels = [step0, step499, step699, step899, step949, step999]

W, H = 1783, 249
fig = plt.figure(figsize=(W / 100, H / 100), dpi=100)
lefts = [32, 328, 625.5, 921, 1217, 1514]
ax_w = 261
ax_bottom = 1 - 203.3 / H
ax_h = (203.3 - 10) / H

for i, (pts, title) in enumerate(zip(panels, titles)):
    ax = fig.add_axes([lefts[i] / W, ax_bottom, ax_w / W, ax_h])
    arr = np.array(pts)
    ax.scatter(arr[:, 0], arr[:, 1], s=3.0, color="#3f0a6e", linewidths=0)
    ax.set_xlim(-1, 1)
    ax.set_ylim(-1, 1)
    ax.set_xticks(ticks)
    ax.set_yticks(ticks)
    ax.set_xticklabels([f"{t:.2f}" for t in ticks])
    ax.set_yticklabels([f"{t:.2f}" for t in ticks])
    ax.tick_params(labelsize=5.5, length=2, width=0.5, pad=1, colors="#333333")
    for sp in ax.spines.values():
        sp.set_color("#8a8a8a")
        sp.set_linewidth(0.8)
    cx = (lefts[i] + ax_w / 2) / W
    fig.text(cx, 1 - 233 / H, title, ha="center", va="center",
             fontsize=19.5, family="Liberation Serif", color="black")

fig.savefig("out.png", dpi=100)
